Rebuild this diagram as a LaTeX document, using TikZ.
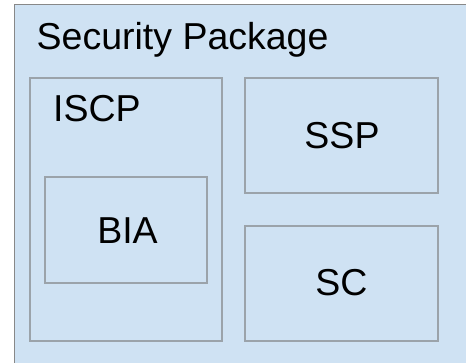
\documentclass[tikz,border=0pt]{standalone}
\usepackage{fontspec}
\setmainfont{Liberation Sans}
\definecolor{fillblue}{HTML}{CFE2F3}
\definecolor{outerline}{HTML}{888888}
\definecolor{innerline}{HTML}{9BA3AA}
\begin{document}
\begin{tikzpicture}[x=1pt,y=-1pt,
  box/.style={draw=innerline, line width=1.4pt, fill=fillblue, rectangle, inner sep=0pt, outer sep=0pt},
  lbl/.style={font=\fontsize{37.5}{43}\selectfont, inner sep=0pt, text=black}]
\useasboundingbox (0,0) rectangle (466,363);
\clip (0,0) rectangle (466,363);
\node[draw=outerline, line width=1.5pt, fill=fillblue, inner sep=0pt, outer sep=0pt,
  minimum width=470pt, minimum height=370pt, anchor=north west] (pkg) at (14.5,4.5) {};
\node[box, minimum width=192pt, minimum height=263pt] (iscp) at (126,209.5) {};
\node[box, minimum width=162pt, minimum height=106pt] (bia) at (126,230) {};
\node[box, minimum width=193pt, minimum height=115pt] (ssp) at (341.5,135.5) {};
\node[box, minimum width=193pt, minimum height=115pt] (sc) at (341.5,283.5) {};
\node[lbl, anchor=base west] (tpkg) at (36.5,49.3) {Security Package};
\node[lbl, anchor=base west] (tiscp) at (53,122) {ISCP};
\node[lbl, anchor=base] (tssp) at (342,148.3) {SSP};
\node[lbl, anchor=base] (tbia) at (127.5,243.3) {BIA};
\node[lbl, anchor=base] (tsc) at (341.5,295.7) {SC};
\end{tikzpicture}
\end{document}
